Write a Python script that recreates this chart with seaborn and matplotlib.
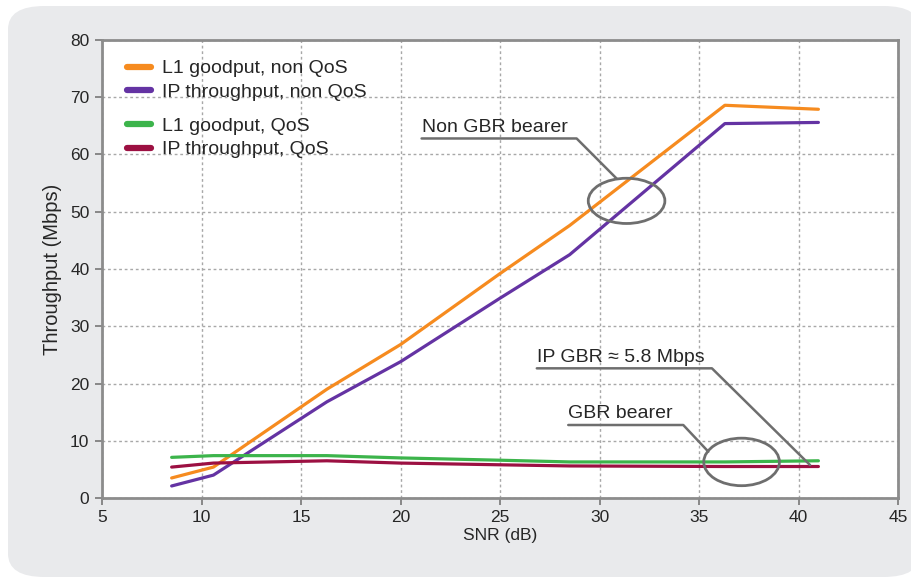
import pandas as pd
import matplotlib.pyplot as plt
import seaborn as sns
from matplotlib.patches import FancyBboxPatch, Ellipse

# ===================== DATA =====================
snr = [8.5, 10.6, 16.3, 20, 25, 28.5, 36.3, 41]
l1_nonqos = [3.5, 5.4, 19.0, 26.8, 39.2, 47.6, 68.6, 67.9]
ip_nonqos = [2.1, 4.0, 16.8, 23.8, 34.9, 42.5, 65.4, 65.6]
l1_qos = [7.1, 7.4, 7.4, 7.0, 6.6, 6.3, 6.3, 6.5]
ip_qos = [5.4, 6.1, 6.5, 6.1, 5.8, 5.6, 5.5, 5.5]

series_names = ["L1 goodput, non QoS", "IP throughput, non QoS",
                "L1 goodput, QoS", "IP throughput, QoS"]
series_colors = ["#f68b1f", "#6433a3", "#3cb44b", "#9c1042"]

x_ticks = [5, 10, 15, 20, 25, 30, 35, 40, 45]
y_ticks = [0, 10, 20, 30, 40, 50, 60, 70, 80]

rows = []
for name, vals in zip(series_names, [l1_nonqos, ip_nonqos, l1_qos, ip_qos]):
    for s, v in zip(snr, vals):
        rows.append({"SNR": s, "Throughput": v, "Series": name})
df = pd.DataFrame(rows)

# ===================== PLOT =====================
sns.set_style("white")
plt.rcParams["font.family"] = ["Liberation Sans", "DejaVu Sans"]

fig = plt.figure(figsize=(9.12, 5.83), dpi=100)

# grey rounded panel behind the chart
panel = FancyBboxPatch((8 / 912, 6 / 583), 1.0, 571 / 583,
                       boxstyle="round,pad=0,rounding_size=0.04",
                       transform=fig.transFigure, facecolor="#e9eaec",
                       edgecolor="none", zorder=-10)
fig.patches.append(panel)

ax = fig.add_axes([102 / 912, 85 / 583, 796 / 912, 458 / 583])
ax.set_facecolor("white")

palette = dict(zip(series_names, series_colors))
sns.lineplot(data=df, x="SNR", y="Throughput", hue="Series",
             palette=palette, linewidth=2.3, sort=False, ax=ax,
             legend=False, zorder=3)

ax.set_xlim(5, 45)
ax.set_ylim(0, 80)
ax.set_xticks(x_ticks)
ax.set_yticks(y_ticks)
ax.grid(True, color="#a8a8a8", linestyle=(0, (2, 2)), linewidth=1)
for sp in ax.spines.values():
    sp.set_color("#8c8c8c")
    sp.set_linewidth(2)
ax.tick_params(axis="both", direction="out", length=5, width=1.2,
               color="#777777", labelsize=12.5, pad=4, left=True, bottom=True)
ax.set_xlabel("SNR (dB)", fontsize=12.5, labelpad=2)
ax.set_ylabel("Throughput (Mbps)", fontsize=14.5, labelpad=6)

# legends (two groups)
h = [plt.Line2D([], [], color=c, linewidth=4.5) for c in series_colors]
leg1 = ax.legend(h[:2], series_names[:2], loc="upper left",
                 bbox_to_anchor=(0.01, 0.995), frameon=False, fontsize=14,
                 handlelength=1.2, handletextpad=0.6, labelspacing=0.32)
ax.add_artist(leg1)
ax.legend(h[2:], series_names[2:], loc="upper left",
          bbox_to_anchor=(0.01, 0.87), frameon=False, fontsize=14,
          handlelength=1.2, handletextpad=0.6, labelspacing=0.32)

# annotations
gray = "#6e6e6e"
ax.add_patch(Ellipse((31.36, 51.9), 3.85, 7.9, fill=False,
                     edgecolor=gray, linewidth=2, zorder=4))
ax.add_patch(Ellipse((37.14, 6.3), 3.8, 8.3, fill=False,
                     edgecolor=gray, linewidth=2, zorder=4))

ax.text(21.06, 63.3, "Non GBR bearer", fontsize=14, va="bottom", zorder=5)
ax.plot([21.06, 28.85, 30.86], [62.8, 62.8, 55.8], color=gray, lw=1.8, zorder=4)

ax.text(26.85, 23.1, "IP GBR \u2248 5.8 Mbps", fontsize=14, va="bottom", zorder=5)
ax.plot([26.85, 35.65, 40.58], [22.65, 22.65, 5.76], color=gray, lw=1.8, zorder=4)

ax.text(28.43, 13.2, "GBR bearer", fontsize=14, va="bottom", zorder=5)
ax.plot([28.43, 34.21, 35.47], [12.75, 12.75, 8.09], color=gray, lw=1.8, zorder=4)

plt.savefig("out.png", dpi=100)
